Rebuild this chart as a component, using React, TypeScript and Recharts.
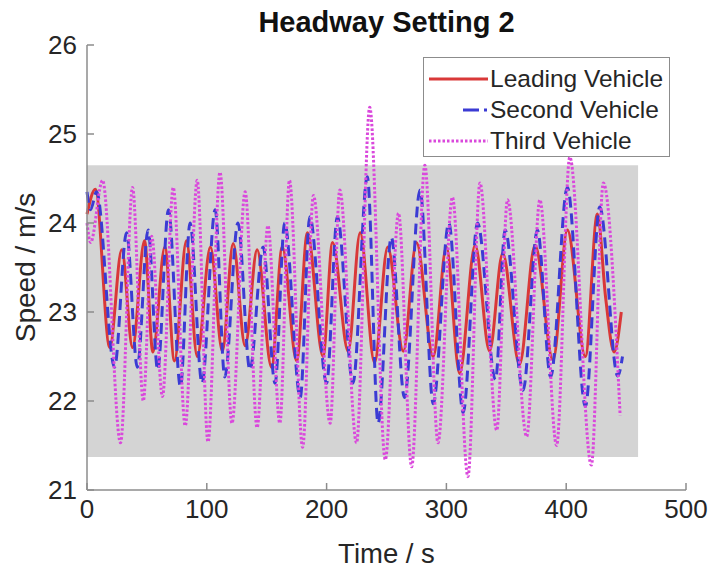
import React from 'react';
import { LineChart, Line, XAxis, YAxis, ReferenceArea, Legend } from 'recharts';

// [time s, speed m/s] at the turning points
const leading: [number, number][] = [
  [0, 24.1], [7, 24.38], [19, 22.6], [29, 23.7], [38, 22.6], [48, 23.8], [55, 22.55], [65, 23.73],
  [73, 22.45], [83, 23.8], [92, 22.5], [103, 23.73], [113, 22.56], [122, 23.77], [132, 22.62],
  [142, 23.7], [154, 22.38], [163, 23.73], [175, 22.45], [184, 23.89], [197, 22.5], [205, 23.78],
  [218, 22.56], [228, 23.89], [240, 22.43], [251, 23.73], [264, 22.56], [275, 23.78], [289, 22.5],
  [300, 23.73], [311, 22.31], [324, 23.75], [336, 22.56], [347, 23.66], [361, 22.41], [374, 23.75],
  [389, 22.46], [401, 23.92], [416, 22.5], [426, 24.1], [433, 23.15], [440, 22.55], [446, 23.0],
];

const second: [number, number][] = [
  [0, 24.35], [3, 24.15], [8, 24.35], [23, 22.38], [33, 23.89], [42, 22.38], [51, 23.92], [59, 22.35],
  [68, 24.15], [78, 22.16], [86, 24.0], [96, 22.2], [107, 24.15], [115, 22.27], [126, 24.0],
  [136, 22.35], [147, 23.73], [157, 22.2], [165, 24.0], [178, 22.04], [186, 24.07], [200, 22.2],
  [209, 24.07], [222, 22.2], [234, 24.52], [243, 21.75], [254, 23.84], [265, 22.04], [278, 24.37],
  [289, 21.97], [302, 24.0], [314, 21.87], [326, 24.0], [341, 22.24], [349, 23.92], [364, 22.12],
  [376, 23.92], [387, 22.27], [401, 24.4], [416, 21.94], [428, 24.18], [443, 22.28], [447, 22.5],
];

const third: [number, number][] = [
  [0, 24.0], [3, 23.78], [13, 24.48], [28, 21.53], [38, 24.4], [47, 22.0], [54, 23.85], [63, 22.05],
  [72, 24.4], [82, 21.72], [92, 24.48], [101, 21.54], [111, 24.57], [121, 21.75], [132, 24.35],
  [142, 21.7], [151, 23.97], [161, 21.75], [169, 24.48], [180, 21.48], [189, 24.31], [203, 21.75],
  [211, 24.37], [225, 21.53], [236, 25.3], [249, 21.34], [260, 24.11], [271, 21.26], [282, 24.65],
  [293, 21.53], [305, 24.29], [318, 21.15], [328, 24.45], [342, 21.67], [351, 24.26], [367, 21.6],
  [378, 24.26], [392, 21.5], [403, 24.74], [421, 21.28], [431, 24.45], [445, 21.84],
];

const xTicks = [0, 100, 200, 300, 400, 500];
const yTicks = [21, 22, 23, 24, 25, 26];

// shaded band behind the traces
const bandX = [0, 460];
const bandY = [21.37, 24.65];

const FONT = '"Liberation Sans", Arial, Helvetica, sans-serif';
const AXIS = '#8c8c8c';
const TEXT = '#262626';

const series = [
  { name: 'Leading Vehicle', pts: leading, color: '#d93838', dash: undefined as string | undefined, key: undefined as string | undefined },
  { name: 'Second Vehicle', pts: second, color: '#3b3bd4', dash: '11 6', key: '0 34 16 5 3 20' },
  { name: 'Third Vehicle', pts: third, color: '#da48dc', dash: '2.5 2', key: '2.5 2' },
];

const toRows = (pts: [number, number][]) => pts.map(([t, v]) => ({ t, v }));

function LegendBox() {
  return (
    <div
      style={{
        width: 247,
        height: 100,
        boxSizing: 'border-box',
        border: `1.5px solid ${AXIS}`,
        background: '#fff',
        paddingTop: 5,
        fontFamily: FONT,
        fontSize: 24.5,
        color: TEXT,
      }}
    >
      {series.map(s => (
        <div key={s.name} style={{ display: 'flex', alignItems: 'center', height: 31 }}>
          <svg width={66} height={10} style={{ flex: 'none' }}>
            <line x1={5} x2={64} y1={5} y2={5} stroke={s.color} strokeWidth={3} strokeDasharray={s.key} />
          </svg>
          <span style={{ whiteSpace: 'nowrap' }}>{s.name}</span>
        </div>
      ))}
    </div>
  );
}

export default function App() {
  return (
    <div style={{ position: 'absolute', top: 0, left: 0, width: 710, height: 573, fontFamily: FONT }}>
      <div
        style={{
          position: 'absolute',
          top: 5,
          left: 87,
          width: 599,
          textAlign: 'center',
          fontWeight: 'bold',
          fontSize: 29,
          color: '#111',
          lineHeight: '34px',
        }}
      >
        Headway Setting 2
      </div>
      <LineChart width={710} height={573} margin={{ top: 45, right: 24, bottom: 0, left: 0 }}>
        <ReferenceArea
          x1={bandX[0]}
          x2={bandX[1]}
          y1={bandY[0]}
          y2={bandY[1]}
          fill="#d4d4d4"
          fillOpacity={1}
          stroke="none"
        />
        <XAxis
          dataKey="t"
          type="number"
          domain={[0, 500]}
          ticks={xTicks}
          height={83}
          stroke={AXIS}
          strokeWidth={1.5}
          tickSize={-7}
          tickMargin={17}
          tick={{ fill: TEXT, fontSize: 26, fontFamily: FONT }}
          label={{ value: 'Time / s', position: 'insideBottom', offset: 10, fill: TEXT, fontSize: 27.5, fontFamily: FONT }}
        />
        <YAxis
          type="number"
          domain={[21, 26]}
          ticks={yTicks}
          width={87}
          stroke={AXIS}
          strokeWidth={1.5}
          tickSize={-7}
          tickMargin={17}
          tick={{ fill: TEXT, fontSize: 26, fontFamily: FONT }}
          label={{
            value: 'Speed / m/s',
            angle: -90,
            position: 'insideLeft',
            offset: 25,
            fill: TEXT,
            fontSize: 28,
            fontFamily: FONT,
            style: { textAnchor: 'middle' },
          }}
        />
        <Legend
          layout="vertical"
          align="center"
          verticalAlign="middle"
          content={() => <LegendBox />}
          wrapperStyle={{ top: 57, left: 423, width: 247, height: 100 }}
        />
        {series.map(s => (
          <Line
            key={s.name}
            name={s.name}
            data={toRows(s.pts)}
            dataKey="v"
            type="monotone"
            stroke={s.color}
            strokeWidth={3}
            strokeDasharray={s.dash}
            dot={false}
            activeDot={false}
            isAnimationActive={false}
          />
        ))}
      </LineChart>
    </div>
  );
}
